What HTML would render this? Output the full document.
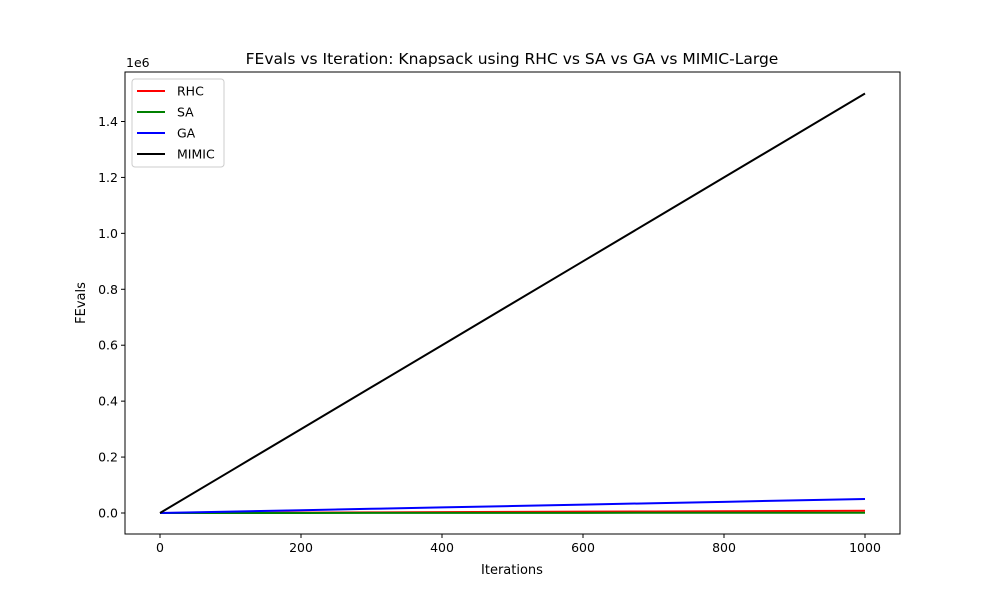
<!DOCTYPE html>
<html><head><meta charset="utf-8"><style>
body{margin:0;background:#fff;font-family:"Liberation Sans","DejaVu Sans",sans-serif}
</style></head><body>
<svg width="1000" height="600" xmlns="http://www.w3.org/2000/svg" font-family="DejaVu Sans, Liberation Sans, sans-serif">
<rect width="1000" height="600" fill="#fff"/>
<g id="plot"></g>
</svg>
<script>
const iterations=[0,100,200,300,400,500,600,700,800,900,1000];
const rhcVals=[0,700,1500,2300,3100,3900,4700,5500,6300,7100,8000];
const saVals=[0,100,200,300,400,500,600,700,800,900,1000];
const gaVals=[0,5000,10000,15000,20000,25000,30000,35000,40000,45000,50000];
const mimicVals=[0,150000,300000,450000,600000,750000,900000,1050000,1200000,1350000,1500000];
const xTicks=[0,200,400,600,800,1000];
const yTicks=[0,200000,400000,600000,800000,1000000,1200000,1400000];
const yTickLabels=["0.0","0.2","0.4","0.6","0.8","1.0","1.2","1.4"];
const L=125,R=900,T=72,B=534;
const xs=v=>160+(v/1000)*705;
const ys=v=>513-(v/200000)*55.93;
const NS="http://www.w3.org/2000/svg";
const g=document.getElementById('plot');
function mk(t,a,p){const e=document.createElementNS(NS,t);for(const k in a)e.setAttribute(k,a[k]);(p||g).appendChild(e);return e;}
function txt(s,a){const e=mk('text',a);e.textContent=s;return e;}
const series=[["RHC",rhcVals,"red"],["SA",saVals,"green"],["GA",gaVals,"blue"],["MIMIC",mimicVals,"black"]];
series.forEach(([n,vals,c])=>{
 const p=mk('polyline',{points:iterations.map((x,i)=>xs(x)+","+ys(vals[i])).join(" "),fill:"none",stroke:c,"stroke-width":2});
 
 
});
const frame=mk('rect',{x:L,y:T,width:R-L,height:B-T,fill:"none",stroke:"#000","stroke-width":1});


xTicks.forEach(v=>{
 const x=xs(v);
 mk('line',{x1:x,x2:x,y1:B,y2:B+4,stroke:"#000"});
 const t=txt(String(v),{x:x,y:B+18,"text-anchor":"middle","font-size":12.5});
 
 
});
yTicks.forEach((v,i)=>{
 const y=ys(v);
 mk('line',{x1:L-4,x2:L,y1:y,y2:y,stroke:"#000"});
 const t=txt(yTickLabels[i],{x:L-7,y:y+4.5,"text-anchor":"end","font-size":12.5});
 
 
});
let e;
e=txt("1e6",{x:126,y:67,"font-size":12.5});
e=txt("FEvals vs Iteration: Knapsack using RHC vs SA vs GA vs MIMIC-Large",{x:512,y:64,"text-anchor":"middle","font-size":15.5});
e=txt("Iterations",{x:512,y:574,"text-anchor":"middle","font-size":13});
e=txt("FEvals",{x:0,y:0,"text-anchor":"middle","font-size":13,transform:"translate(85,303) rotate(-90)"});
const lg=mk('g',{});


mk('rect',{x:132,y:79,width:92,height:88,rx:3,fill:"#fff",stroke:"#ccc"},lg);
series.forEach(([n,v,c],i)=>{
 const y=91+i*21;
 const en=mk('g',{},lg);
 
 
 mk('line',{x1:137,x2:165,y1:y,y2:y,stroke:c,"stroke-width":2},en);
 const t=mk('text',{x:177,y:y+4.5,"font-size":12.5},en);t.textContent=n;
});
</script>
</body></html>
